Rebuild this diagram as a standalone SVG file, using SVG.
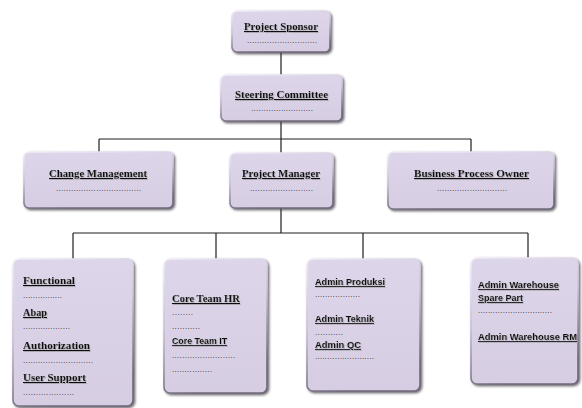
<svg xmlns="http://www.w3.org/2000/svg" width="582" height="408" viewBox="0 0 582 408">
<defs>
  <linearGradient id="edge" x1="0" y1="0" x2="0.3" y2="1">
    <stop offset="0" stop-color="#f3eff8"/>
    <stop offset="0.5" stop-color="#c9bfd8"/>
    <stop offset="1" stop-color="#6f6779"/>
  </linearGradient>
  <linearGradient id="fillg" x1="0" y1="0" x2="0" y2="1">
    <stop offset="0" stop-color="#ddd5e9"/>
    <stop offset="1" stop-color="#d6cde3"/>
  </linearGradient>
  <filter id="shadow" x="-10%" y="-10%" width="125%" height="125%">
    <feDropShadow dx="1.5" dy="1.5" stdDeviation="1.2" flood-color="#3a3640" flood-opacity="0.75"/>
  </filter>
  <filter id="tshadow" x="-5%" y="-20%" width="115%" height="150%">
    <feDropShadow dx="0.8" dy="0.8" stdDeviation="0.4" flood-color="#888" flood-opacity="0.6"/>
  </filter>
</defs>
<style>
  .box { fill: url(#fillg); stroke: url(#edge); stroke-width: 1.6; filter: url(#shadow); }
  .ser { font-family: "Liberation Serif", "DejaVu Serif", serif; font-weight: bold; font-size: 10.5px; fill: #111; text-decoration: underline; filter: url(#tshadow); }
  .san { font-family: "Liberation Sans", "DejaVu Sans", sans-serif; font-weight: bold; font-size: 8.8px; fill: #111; text-decoration: underline; filter: url(#tshadow); }
  .dot { font-family: "Liberation Sans", sans-serif; font-size: 8px; fill: #1e1e1e; }
  .conn line { stroke: #1e1e1e; stroke-width: 1.2; }
</style>
<rect width="582" height="408" fill="#ffffff"/>
<g id="connectors" class="conn">
  <line x1="281" y1="52" x2="281" y2="75"/>
  <line x1="281" y1="121" x2="281" y2="139"/>
  <line x1="99" y1="139" x2="471" y2="139"/>
  <line x1="99" y1="139" x2="99" y2="152"/>
  <line x1="281" y1="139" x2="281" y2="153"/>
  <line x1="471" y1="139" x2="471" y2="152"/>
  <line x1="281" y1="208" x2="281" y2="233"/>
  <line x1="73" y1="233" x2="528" y2="233"/>
  <line x1="73" y1="233" x2="73" y2="259"/>
  <line x1="216" y1="233" x2="216" y2="259"/>
  <line x1="363" y1="233" x2="363" y2="259"/>
  <line x1="528" y1="233" x2="528" y2="258"/>
</g>
<g id="project-sponsor">
  <rect class="box" x="232" y="11" width="98" height="41" rx="5"/>
  <text class="ser" x="244" y="30" textLength="74" lengthAdjust="spacingAndGlyphs">Project Sponsor</text>
  <text class="dot" x="247" y="43" textLength="70" lengthAdjust="spacing">............................</text>
</g>
<g id="steering-committee">
  <rect class="box" x="221" y="75" width="121" height="46" rx="5"/>
  <text class="ser" x="235" y="98" textLength="93" lengthAdjust="spacingAndGlyphs">Steering Committee</text>
  <text class="dot" x="251" y="111" textLength="62" lengthAdjust="spacing">.........................</text>
</g>
<g id="change-management">
  <rect class="box" x="24" y="152" width="149" height="56" rx="5"/>
  <text class="ser" x="49" y="177" textLength="98" lengthAdjust="spacingAndGlyphs">Change Management</text>
  <text class="dot" x="56" y="191" textLength="85" lengthAdjust="spacing">..................................</text>
</g>
<g id="project-manager">
  <rect class="box" x="230" y="153" width="103" height="55" rx="5"/>
  <text class="ser" x="242" y="177" textLength="78" lengthAdjust="spacingAndGlyphs">Project Manager</text>
  <text class="dot" x="250" y="191" textLength="63" lengthAdjust="spacing">.........................</text>
</g>
<g id="business-process-owner">
  <rect class="box" x="388" y="152" width="166" height="57" rx="5"/>
  <text class="ser" x="414" y="177" textLength="115" lengthAdjust="spacingAndGlyphs">Business Process Owner</text>
  <text class="dot" x="437" y="191" textLength="70" lengthAdjust="spacing">............................</text>
</g>
<g id="team-functional">
  <rect class="box" x="13" y="259" width="120" height="147" rx="6"/>
  <text class="ser" x="23" y="284" textLength="52" lengthAdjust="spacingAndGlyphs">Functional</text>
  <text class="dot" x="23" y="298" textLength="39" lengthAdjust="spacing">................</text>
  <text class="ser" x="23" y="316" textLength="24" lengthAdjust="spacingAndGlyphs">Abap</text>
  <text class="dot" x="23" y="329" textLength="47" lengthAdjust="spacing">...................</text>
  <text class="ser" x="23" y="349" textLength="67" lengthAdjust="spacingAndGlyphs">Authorization</text>
  <text class="dot" x="23" y="363" textLength="70" lengthAdjust="spacing">............................</text>
  <text class="ser" x="23" y="381" textLength="63" lengthAdjust="spacingAndGlyphs">User Support</text>
  <text class="dot" x="23" y="395" textLength="51" lengthAdjust="spacing">....................</text>
</g>
<g id="team-core">
  <rect class="box" x="164" y="259" width="103" height="134" rx="6"/>
  <text class="ser" x="172" y="302" textLength="68" lengthAdjust="spacingAndGlyphs">Core Team HR</text>
  <text class="dot" x="172" y="315" textLength="21" lengthAdjust="spacing">........</text>
  <text class="dot" x="172" y="329" textLength="28" lengthAdjust="spacing">...........</text>
  <text class="san" x="172" y="344" textLength="55" lengthAdjust="spacingAndGlyphs">Core Team IT</text>
  <text class="dot" x="172" y="358" textLength="63" lengthAdjust="spacing">.........................</text>
  <text class="dot" x="172" y="372" textLength="40" lengthAdjust="spacing">................</text>
</g>
<g id="team-admin">
  <rect class="box" x="307" y="259" width="113" height="132" rx="6"/>
  <text class="san" x="315" y="285" textLength="70" lengthAdjust="spacingAndGlyphs">Admin Produksi</text>
  <text class="dot" x="315" y="297" textLength="45" lengthAdjust="spacing">..................</text>
  <text class="san" x="315" y="322" textLength="59" lengthAdjust="spacingAndGlyphs">Admin Teknik</text>
  <text class="dot" x="315" y="335" textLength="28" lengthAdjust="spacing">...........</text>
  <text class="san" x="315" y="348" textLength="46" lengthAdjust="spacingAndGlyphs">Admin QC</text>
  <text class="dot" x="315" y="359" textLength="59" lengthAdjust="spacing">........................</text>
</g>
<g id="team-warehouse">
  <rect class="box" x="471" y="258" width="107" height="126" rx="6"/>
  <text class="san" x="478" y="288" textLength="81" lengthAdjust="spacingAndGlyphs">Admin Warehouse</text>
  <text class="san" x="478" y="301" textLength="45" lengthAdjust="spacingAndGlyphs">Spare Part</text>
  <text class="dot" x="478" y="313" textLength="74" lengthAdjust="spacing">..............................</text>
  <text class="san" x="478" y="340" textLength="99" lengthAdjust="spacingAndGlyphs">Admin Warehouse RM</text>
</g>
</svg>
